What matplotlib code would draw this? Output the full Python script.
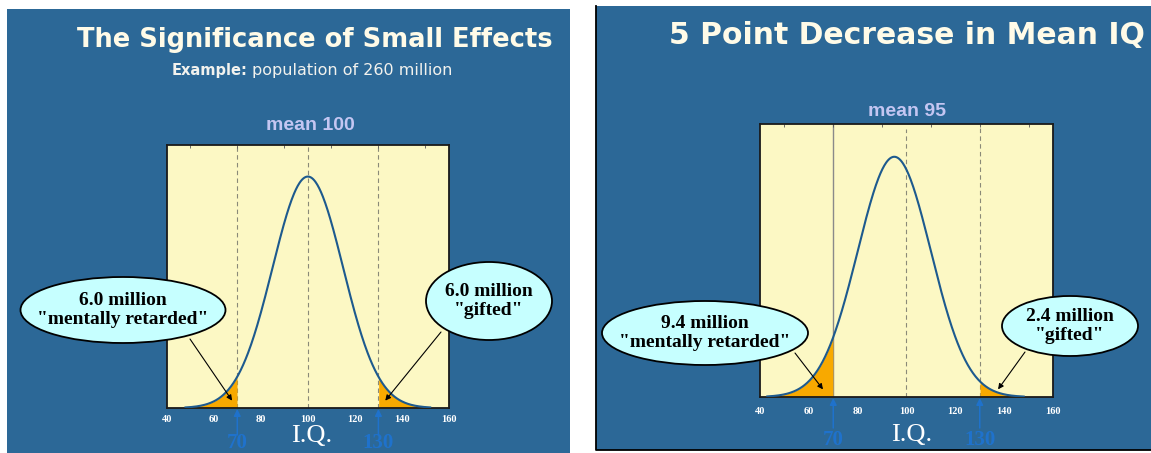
import numpy as np
import matplotlib
matplotlib.use("Agg")
import matplotlib.pyplot as plt
from matplotlib.patches import Rectangle, Ellipse
from matplotlib.transforms import blended_transform_factory

W, H = 1151, 453

# chart values
sd = 15
means = [100, 95]
cutoffs = [70, 130]
xranges = [(48, 152), (43, 148)]
tick_vals = [40, 60, 80, 100, 120, 140, 160]
titles = ["The Significance of Small Effects", "5 Point Decrease in Mean IQ"]
low_labels = ["6.0 million\n\"mentally retarded\"", "9.4 million\n\"mentally retarded\""]
high_labels = ["6.0 million\n\"gifted\"", "2.4 million\n\"gifted\""]

BLUE = "#2c6897"
YEL = "#fcf8c4"
CURVE = "#1d5a8e"
ORANGE = "#f8a900"
CYAN = "#c6ffff"
ARROWBLUE = "#1f72cc"

fig = plt.figure(figsize=(W / 100, H / 100), dpi=100)
fig.patch.set_facecolor("white")


def fx(px):
    return px / W


def fy(py):
    return 1 - py / H


# blue panels
fig.patches.append(Rectangle((fx(7), fy(453)), fx(563), 444 / H, transform=fig.transFigure,
                             facecolor=BLUE, edgecolor="none", zorder=0))
fig.patches.append(Rectangle((fx(596), fy(450)), fx(555), 444 / H, transform=fig.transFigure,
                             facecolor=BLUE, edgecolor="none", zorder=0))

over = fig.add_axes([0, 0, 1, 1], zorder=5)
over.set_xlim(0, W)
over.set_ylim(H, 0)
over.axis("off")
over.patch.set_alpha(0)
# dark edge on the left and bottom of the second panel
over.plot([596, 596, 1151], [6, 450, 450], color="black", lw=1.3)

# plot boxes in pixels: left, right, top, bottom
boxes = [(166.7, 449, 145, 408), (760, 1053, 124, 397)]
ymax = 1 / (sd * np.sqrt(2 * np.pi)) / 0.88

axes = []
for i, (l, r, t, b) in enumerate(boxes):
    ax = fig.add_axes([fx(l), fy(b), (r - l) / W, (b - t) / H], zorder=2)
    ax.set_facecolor(YEL)
    ax.set_xlim(40, 160)
    ax.set_ylim(0, ymax)
    for s in ax.spines.values():
        s.set_color("#1a1a1a")
        s.set_linewidth(1.3)
    ax.set_yticks([])
    ax.set_xticks(tick_vals)
    ax.set_xticklabels([str(v) for v in tick_vals], color="white", fontsize=7.5,
                       family="Liberation Serif", fontweight="bold")
    ax.tick_params(axis="x", length=0, pad=5 if i == 0 else 7)
    ax.set_xticks(np.arange(40, 161, 10), minor=True)
    ax.tick_params(axis="x", which="minor", top=True, bottom=False, direction="in",
                   length=2, color="#555555")

    mu = means[i]
    x = np.linspace(xranges[i][0], xranges[i][1], 400)
    y = np.exp(-0.5 * ((x - mu) / sd) ** 2) / (sd * np.sqrt(2 * np.pi))

    # reference lines
    if i == 0:
        for c in [70, 100, 130]:
            ax.axvline(c, color="#8a8a78", lw=0.8, ls=(0, (4, 3)), zorder=1)
    else:
        ax.axvline(70, color="#8a8a8a", lw=1.0, zorder=1)
        ax.axvline(100, ymax=0.98, color="#8a8a78", lw=0.8, ls=(0, (4, 3)), zorder=1)
        ax.axvline(130, color="#8a8a78", lw=0.8, ls=(0, (4, 3)), zorder=1)

    ax.fill_between(x, 0, y, where=x <= cutoffs[0], color=ORANGE, lw=0, zorder=2)
    ax.fill_between(x, 0, y, where=x >= cutoffs[1], color=ORANGE, lw=0, zorder=2)
    ax.plot(x, y, color=CURVE, lw=1.5, zorder=3)
    axes.append(ax)

    # blue cutoff arrows under the axis
    bt = blended_transform_factory(ax.transData, over.transData)
    tail, lab_y = (435, 443) if i == 0 else (428, 440)
    for c in cutoffs:
        ax.annotate("", xy=(c, b + 1), xycoords=bt, xytext=(c, tail), textcoords=bt,
                    arrowprops=dict(arrowstyle="-|>", color=ARROWBLUE, lw=1.1,
                                    mutation_scale=10, shrinkA=0, shrinkB=0),
                    annotation_clip=False)
        ax.text(c, lab_y, str(c), transform=bt, ha="center", va="center", color=ARROWBLUE,
                fontsize=15, family="Liberation Serif", fontweight="bold", clip_on=False,
                zorder=6)

# titles and labels
over.text(553, 40, titles[0], ha="right", va="center", color="#fffbe8", fontsize=18.5,
          fontweight="bold", family="DejaVu Sans")
over.text(1145, 36, titles[1], ha="right", va="center", color="#fffbe8", fontsize=21.5,
          fontweight="bold", family="DejaVu Sans")
ex = over.text(172, 71, "Example:", ha="left", va="center", color="#f2f2ee", fontsize=10.5,
               fontweight="bold", family="DejaVu Sans")
over.annotate("population of 260 million", xy=(1, 0.5), xycoords=ex, xytext=(3, 0),
              textcoords="offset points", ha="left", va="center", color="#f2f2ee",
              fontsize=11.5, family="DejaVu Sans")
over.text(310, 125, "mean 100", ha="center", va="center", color="#c4c6f2", fontsize=14,
          fontweight="bold", family="Liberation Sans")
over.text(907, 111, "mean 95", ha="center", va="center", color="#c4c6f2", fontsize=14,
          fontweight="bold", family="Liberation Sans")
over.text(312, 436, "I.Q.", ha="center", va="center", color="white", fontsize=19,
          family="Liberation Serif")
over.text(912, 435, "I.Q.", ha="center", va="center", color="white", fontsize=19,
          family="Liberation Serif")

# callout ellipses: panel, centre x, centre y, width, height, label, target data x, tail px
callouts = [
    (0, 123, 310, 205, 66, low_labels[0], 67.8, (190, 339)),
    (0, 489, 301, 126, 78, high_labels[0], 132.9, (441, 332)),
    (1, 705, 333, 206, 64, low_labels[1], 65.8, (795, 353)),
    (1, 1070, 326, 136, 60, high_labels[1], 137.5, (1025, 352)),
]
for pi, cx, cy, ew, eh, label, tx, tail in callouts:
    over.add_patch(Ellipse((cx, cy), ew, eh, facecolor=CYAN, edgecolor="black", lw=1.3))
    over.text(cx, cy, label, ha="center", va="center", fontsize=14, fontweight="bold",
              family="Liberation Serif", color="black", linespacing=1.1)
    ax = axes[pi]
    ax.annotate("", xy=(tx, ymax * 0.028), xycoords="data", xytext=tail,
                textcoords=over.transData,
                arrowprops=dict(arrowstyle="-|>", color="black", lw=0.8, mutation_scale=8,
                                shrinkA=0, shrinkB=0), zorder=6)

fig.savefig("out.png", dpi=100)
